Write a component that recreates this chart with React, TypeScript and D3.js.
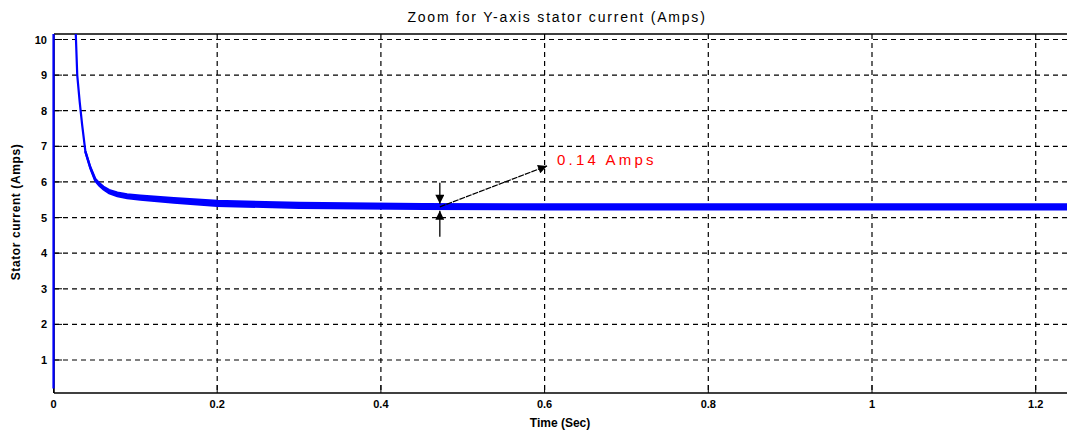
import React from "react";
import * as d3 from "d3";

const W = 1067;
const H = 435;

// Data
const timeSec = [0, 0, 0.026, 0.027, 0.029, 0.032, 0.035, 0.039, 0.045, 0.051, 0.056, 0.061, 0.068, 0.078, 0.09, 0.106, 0.147, 0.2, 0.3, 0.45, 0.6, 0.8, 1.0, 1.25];
const currentAmps = [0.2, 12, 12, 10.3, 9.0, 8.25, 7.6, 6.85, 6.4, 6.06, 5.93, 5.83, 5.73, 5.65, 5.6, 5.56, 5.48, 5.40, 5.34, 5.31, 5.30, 5.30, 5.30, 5.30];
const rippleAmps = [0, 0, 0, 0, 0, 0, 0, 0.02, 0.04, 0.06, 0.07, 0.08, 0.09, 0.1, 0.11, 0.12, 0.13, 0.14, 0.14, 0.14, 0.14, 0.14, 0.14, 0.14];

const xTicks = [0, 0.2, 0.4, 0.6, 0.8, 1, 1.2];
const xTickLabels = ["0", "0.2", "0.4", "0.6", "0.8", "1", "1.2"];
const yTicks = [1, 2, 3, 4, 5, 6, 7, 8, 9, 10];

const title = "Zoom for Y-axis stator current (Amps)";
const xLabel = "Time (Sec)";
const yLabel = "Stator current (Amps)";
const annotText = "0.14 Amps";
const annotAt = { t: 0.472, i: 5.3 };
const annotArrowTo = { t: 0.603, i: 6.45 };

export default function App() {
  const left = 54, right = W, top = 34, bottom = 393;
  const x = d3.scaleLinear().domain([0, 1.2]).range([53.5, 1035.7]);
  const y = d3.scaleLinear().domain([1, 10]).range([360, 39.5]);

  const pts = timeSec.map((t, k) => ({ t, v: currentAmps[k], r: rippleAmps[k] }));
  const line = d3.line<any>().x((d) => x(d.t)).y((d) => y(d.v));
  const area = d3
    .area<any>()
    .x((d) => x(d.t))
    .y0((d) => y(d.v - d.r / 2))
    .y1((d) => y(d.v + d.r / 2));
  const bandPts = pts.filter((d) => d.t >= 0.039);

  const ax = x(annotAt.t);
  const ay = y(annotAt.i);
  const ex = x(annotArrowTo.t);
  const ey = y(annotArrowTo.i);

  const font = "Arial, 'Liberation Sans', sans-serif";

  return (
    <svg
      width={W}
      height={H}
      style={{ position: "absolute", left: 0, top: 0, background: "#fff" }}
      fontFamily={font}
    >
      <defs>
        <clipPath id="plot">
          <rect x={left - 2} y={top} width={right - left + 2} height={bottom - top} />
        </clipPath>
        <marker id="ah" viewBox="0 0 10 10" refX="10" refY="5" markerWidth="11" markerHeight="9" orient="auto" markerUnits="userSpaceOnUse">
          <path d="M0,0 L10,5 L0,10 Z" fill="#000" />
        </marker>
      </defs>

      {/* grid */}
      {yTicks.map((v) => (
        <line key={"gy" + v} x1={left} x2={right} y1={y(v)} y2={y(v)} stroke="#000" strokeWidth={1.2} strokeDasharray="5,4" />
      ))}
      {xTicks.slice(1).map((v) => (
        <line key={"gx" + v} x1={x(v)} x2={x(v)} y1={top} y2={bottom} stroke="#000" strokeWidth={1.2} strokeDasharray="5,4" />
      ))}
      {/* tick marks */}
      {xTicks.map((v) => (
        <line key={"tx" + v} x1={x(v)} x2={x(v)} y1={bottom} y2={bottom - 8} stroke="#000" strokeWidth={1} />
      ))}
      {yTicks.map((v) => (
        <line key={"ty" + v} x1={left} x2={left + 8} y1={y(v)} y2={y(v)} stroke="#000" strokeWidth={1} />
      ))}

      {/* axes box */}
      <line x1={left} x2={right} y1={top} y2={top} stroke="#000" strokeWidth={1.5} />
      <line x1={left} x2={right} y1={bottom} y2={bottom} stroke="#000" strokeWidth={1.5} />
      <line x1={left} x2={left} y1={top} y2={bottom} stroke="#000" strokeWidth={1.5} />

      {/* data */}
      <g clipPath="url(#plot)">
        <path d={line(pts) || ""} fill="none" stroke="#0000ff" strokeWidth={2.2} />
        <path d={area(bandPts) || ""} fill="#0000ff" stroke="#0000ff" strokeWidth={2.2} />
      </g>

      {/* tick labels */}
      {xTicks.map((v, k) => (
        <text key={"lx" + v} x={x(v)} y={408} textAnchor="middle" fontSize={11} fontWeight="bold">
          {xTickLabels[k]}
        </text>
      ))}
      {yTicks.map((v) => (
        <text key={"ly" + v} x={47} y={y(v) + 4} textAnchor="end" fontSize={11} fontWeight="bold">
          {v}
        </text>
      ))}

      {/* titles */}
      <text x={557} y={22} textAnchor="middle" fontSize={14} letterSpacing={1.8}>
        {title}
      </text>
      <text x={560} y={427} textAnchor="middle" fontSize={12} fontWeight="bold">
        {xLabel}
      </text>
      <text transform={`translate(20,${212}) rotate(-90)`} textAnchor="middle" fontSize={12} fontWeight="bold" letterSpacing={0.6}>
        {yLabel}
      </text>

      {/* annotation */}
      <line x1={ax} y1={ay} x2={ex} y2={ey} stroke="#000" strokeWidth={1.3} strokeDasharray="6,1" markerEnd="url(#ah)" />
      <line x1={ax} y1={ay - 24} x2={ax} y2={ay - 3} stroke="#000" strokeWidth={1.3} markerEnd="url(#ah)" />
      <line x1={ax} y1={ay + 30} x2={ax} y2={ay + 4} stroke="#000" strokeWidth={1.3} markerEnd="url(#ah)" />
      <text x={557} y={165} fontSize={15} fill="#ff0000" letterSpacing={3.2}>
        {annotText}
      </text>
    </svg>
  );
}
